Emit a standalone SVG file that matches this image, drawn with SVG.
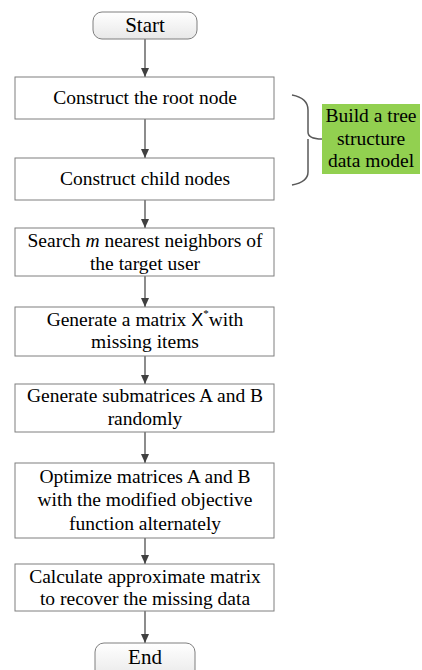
<svg xmlns="http://www.w3.org/2000/svg" width="422" height="670" viewBox="0 0 422 670">
<style>
.box{fill:#fff;stroke:#7f7f7f;stroke-width:1}
.term{fill:url(#g);stroke:#7f7f7f;stroke-width:1}
text{font-family:'Liberation Serif','Times New Roman',serif;fill:#000;text-anchor:middle}
.t{font-size:19.5px}
.ts{font-size:21px}
.c{stroke:#404040;stroke-width:1.2;fill:none}
</style>
<defs>
<linearGradient id="g" x1="0" y1="0" x2="0" y2="1">
<stop offset="0" stop-color="#ffffff"/>
<stop offset="1" stop-color="#e8e8e8"/>
</linearGradient>
<marker id="a" markerWidth="10" markerHeight="10" refX="9" refY="5" orient="auto" markerUnits="userSpaceOnUse">
<path d="M0,1 L9,5 L0,9 Z" fill="#404040"/>
</marker>
</defs>
<g id="connectors">
<line class="c" x1="145" y1="39" x2="145" y2="77" marker-end="url(#a)"/>
<line class="c" x1="145" y1="119" x2="145" y2="158" marker-end="url(#a)"/>
<line class="c" x1="145" y1="200" x2="145" y2="228" marker-end="url(#a)"/>
<line class="c" x1="145" y1="276" x2="145" y2="307" marker-end="url(#a)"/>
<line class="c" x1="145" y1="356" x2="145" y2="384" marker-end="url(#a)"/>
<line class="c" x1="145" y1="432" x2="145" y2="463" marker-end="url(#a)"/>
<line class="c" x1="145" y1="538" x2="145" y2="564" marker-end="url(#a)"/>
<line class="c" x1="145" y1="611" x2="145" y2="643" marker-end="url(#a)"/>
<path d="M292,95 Q308,98 308,110 L308,132 Q308,139 322,139 M308,139 L308,172 Q308,182 292,185" fill="none" stroke="#595959" stroke-width="1.5"/>
</g>
<g id="start">
<rect class="term" x="93" y="12" width="104" height="27" rx="9"/>
<text class="ts" x="145" y="32">Start</text>
</g>
<g id="root">
<rect class="box" x="15" y="77" width="259" height="42"/>
<text class="t" x="145" y="104">Construct the root node</text>
</g>
<g id="child">
<rect class="box" x="15" y="158" width="259" height="42"/>
<text class="t" x="145" y="185">Construct child nodes</text>
</g>
<g id="tree">
<rect x="322" y="104" width="98" height="70" fill="#92d050"/>
<text class="t" x="371" y="122">Build a tree</text>
<text class="t" x="371" y="145">structure</text>
<text class="t" x="371" y="167">data model</text>
</g>
<g id="search">
<rect class="box" x="15" y="228" width="259" height="48"/>
<text class="t" x="145" y="247">Search <tspan font-style="italic">m</tspan> nearest neighbors of</text>
<text class="t" x="145" y="270">the target user</text>
</g>
<g id="generate">
<rect class="box" x="15" y="307" width="259" height="49"/>
<text class="t" x="145" y="326">Generate a matrix <tspan style="font-family:'Liberation Sans',Arial,sans-serif;font-size:18px">X</tspan><tspan font-size="11" dy="-9">*</tspan><tspan dy="9">with</tspan></text>
<text class="t" x="145" y="348">missing items</text>
</g>
<g id="submatrices">
<rect class="box" x="15" y="384" width="259" height="48"/>
<text class="t" x="145" y="402">Generate submatrices A and B</text>
<text class="t" x="145" y="425">randomly</text>
</g>
<g id="optimize">
<rect class="box" x="15" y="463" width="259" height="75"/>
<text class="t" x="145" y="483">Optimize matrices A and B</text>
<text class="t" x="145" y="506">with the modified objective</text>
<text class="t" x="145" y="530">function alternately</text>
</g>
<g id="calculate">
<rect class="box" x="15" y="564" width="259" height="47"/>
<text class="t" x="145" y="583">Calculate approximate matrix</text>
<text class="t" x="145" y="605">to recover the missing data</text>
</g>
<g id="end">
<rect class="term" x="95" y="643" width="100" height="36" rx="9"/>
<text class="ts" x="145" y="664">End</text>
</g>
</svg>
